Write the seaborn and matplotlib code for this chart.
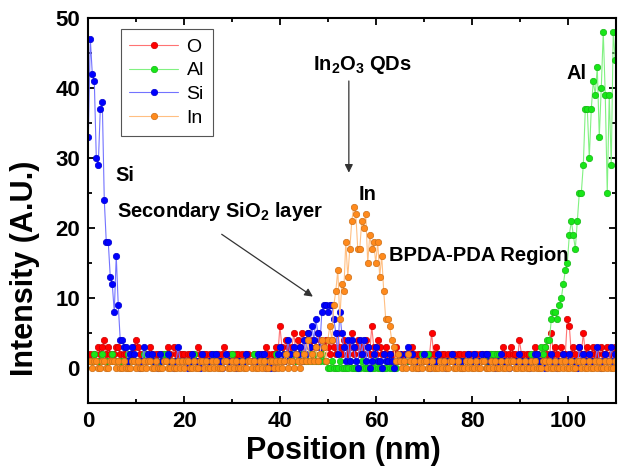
import numpy as np
import pandas as pd
import matplotlib
matplotlib.use("Agg")
import matplotlib.pyplot as plt
from matplotlib.ticker import MultipleLocator
from matplotlib.colors import to_rgb
import seaborn as sns

# sampling step of the line scan (nm)
STEP = 0.416

elements = ["O", "Al", "Si", "In"]
colors = {"O": "#ff0000", "Al": "#19e619", "Si": "#0000ff", "In": "#ff8a1c"}

# Intensity (A.U.) per point
o_vals = ([1, 2, 1, 2, 1, 3, 2, 3, 4, 2, 3, 2, 1, 2, 3, 3, 2, 1, 2, 2, 1, 2, 2, 3, 4, 3, 2, 1, 2, 2,
           1, 3, 2, 1, 2, 2, 1, 2, 2, 1, 3, 2, 1, 3, 2, 1, 2, 2]
          + [2, 1, 2, 2, 1, 2, 1, 3, 2, 1, 2, 2, 1, 2, 1, 1, 2, 2, 1, 2, 3, 1, 2, 1, 2, 1, 2, 2, 1, 2,
             1, 2, 2, 1, 1, 2, 1, 2, 2, 1, 2, 3, 2, 1, 2, 2, 3, 2]
          + [6, 3, 2, 4, 3, 2, 3, 5, 2, 4, 3, 5, 2, 4, 5, 3, 4, 2, 3, 5, 4, 2, 3, 4, 3, 2, 4, 3, 2, 5,
             3, 2, 4, 3, 2]
          + [3, 5, 2, 3, 4, 2, 3, 2, 4, 3, 2, 6, 3, 2, 4, 3, 2, 2, 3, 2, 1, 2, 2, 3, 2, 2, 1, 2, 2, 1,
             2, 3, 2, 1, 2]
          + [2, 1, 2, 2, 1, 2, 5, 2, 3, 2, 1, 2, 2, 1, 2, 1, 2, 2, 1, 2, 2, 1, 2, 1, 2, 2, 1, 2, 2, 1,
             2, 2, 1, 2, 1, 2, 2, 1, 2, 2, 1, 2, 3, 2, 1, 2, 3, 2, 2, 1, 4, 2, 2, 1, 2, 2, 1, 2, 3, 2,
             2, 1]
          + [2, 3, 2, 1, 5, 2, 3, 2, 1, 3, 2, 2, 7, 6, 2, 3, 2, 1, 3, 2, 5, 2, 3, 1, 2, 3, 2, 2, 1, 3,
             2, 2, 3, 1, 2, 2, 3])

al_vals = ([1, 1, 1, 2, 1, 1, 1, 2, 1, 1, 1, 1, 2, 1, 1, 1, 1, 1, 1, 1, 2, 1, 1, 1, 1, 1, 1, 1, 2, 1,
            1, 1, 1, 1, 1, 1, 1, 1, 2, 2, 1, 1, 1, 1, 1, 1, 1, 1]
           + [1, 1, 1, 1, 1, 2, 1, 1, 1, 1, 1, 1, 1, 1, 1, 2, 1, 1, 1, 1, 1, 1, 1, 1, 2, 1, 1, 1, 1, 1,
              1, 1, 1, 1, 1, 2, 1, 1, 1, 1, 1, 1, 1, 1, 1, 1, 2, 1]
           + [1, 1, 2, 1, 1, 1, 2, 1, 1, 1, 2, 2, 1, 1, 1, 2, 1, 2, 1, 1, 1, 2, 1, 1]
           + [0, 0, 1, 0, 0, 0, 1, 0, 0, 0, 0, 1, 0, 0, 0, 0, 0, 1, 0, 0, 0, 0, 0, 0, 1, 0, 0, 0, 0, 0,
              1, 0, 0, 0, 0]
           + [1, 1, 1, 1, 1, 1, 1, 1, 1, 1, 1, 1, 2, 2, 1, 2, 1, 1, 1, 1, 1, 1, 1, 1, 1, 1, 1, 1, 1, 1,
              1, 1, 1, 1, 1, 1, 1, 1, 1, 1, 1, 1, 1, 1, 1, 1, 1, 2, 2, 1, 2, 2, 1, 1, 1, 1, 1, 1, 1, 1,
              1, 1, 1, 1, 1, 1, 1, 2, 1]
           + [1, 2, 1, 3, 2, 3, 4, 4, 7, 8, 8, 7, 9, 10, 12, 14, 15, 19, 21, 19, 17, 21, 25, 25, 29,
              37, 37, 30, 37, 41, 39, 43, 33, 40, 48, 39, 25, 39, 29, 48, 44])

si_vals = ([33, 47, 42, 41, 30, 29, 37, 38, 24, 18, 18, 13, 12, 8, 16, 9, 4, 4]
           + [3, 3, 1, 2, 3, 2, 1, 1, 0, 1, 3, 1, 2, 1, 2, 1, 1, 0, 2, 1, 1, 1, 2, 1, 1, 0, 1, 3, 1, 1]
           + [1, 1, 0, 1, 2, 1, 1, 1, 0, 2, 1, 1, 1, 1, 2, 1, 2, 1, 1, 0, 1, 2, 1, 1, 1, 1, 0, 1, 1, 1,
              1, 2, 1, 1, 1, 1, 1, 2, 1, 2, 2, 0, 1, 0, 1, 0, 1, 2]
           + [3, 1, 2, 1, 4, 2, 1, 3, 2]
           + [2, 3, 1, 4, 2, 5, 3, 6, 4, 7, 5, 3, 8, 9, 9, 8, 9, 9, 7, 5, 2, 8, 5, 3, 1, 4]
           + [1, 4, 3, 1, 0, 4, 2, 4, 1, 3, 0, 1, 2, 3, 1, 1, 0, 2, 1, 1, 2, 1, 0, 1, 1, 2, 1, 1, 2, 3,
              1, 2, 1, 1, 0]
           + [1, 1, 2, 1, 1, 0, 1, 1, 1, 2, 1, 1, 1, 0, 1, 1, 2, 1, 1, 1, 1, 0, 1, 1, 2, 1, 1, 2, 1, 1,
              1, 2, 1, 2, 2, 1, 1, 1, 0, 1, 1, 2, 1, 1, 1, 0, 1, 1, 1, 1, 2, 1, 1, 1, 1, 0, 1, 1, 2, 2,
              1, 1]
           + [1, 0, 1, 1, 2, 1, 1, 0, 1, 1, 2, 1, 1, 2, 1, 1, 1, 0, 3, 1, 2, 1, 1, 2, 1, 1, 1, 3, 1, 0,
              1, 2, 1, 1, 3, 1, 2])

in_vals = ([1, 1, 0, 1, 1, 0, 0, 1, 1, 0, 0, 1, 1, 1, 0, 1, 0, 0, 1, 0, 0, 0, 1, 1, 0, 1, 0, 0, 1, 0,
            1, 1, 0, 0, 1, 0, 0, 0, 1, 1, 0, 0, 1, 0, 0, 1, 0, 1]
           + [0, 1, 1, 0, 0, 1, 0, 0, 1, 1, 0, 1, 0, 0, 1, 0, 1, 0, 0, 0, 1, 1, 0, 0, 1, 0, 1, 0, 0, 1,
              0, 0, 1, 1, 0, 1, 0, 0, 1, 0, 1, 0, 0, 1, 1, 0, 1, 0]
           + [1, 0, 1, 2, 0, 1, 1, 0, 2, 1, 0, 1, 2, 1]
           + [4, 1, 2, 1, 3, 1, 2, 4, 3, 1, 4, 6, 4, 9, 11, 14, 7, 12, 11, 18, 13, 17, 21, 23, 22, 17,
              17, 21, 20, 22, 15, 19, 17, 18, 15, 18, 13, 16, 11, 7, 7, 6, 4, 3, 1, 2]
           + [1, 0, 1, 0, 2, 1, 0, 1, 0, 0, 1, 0, 1, 1, 0, 0, 1, 0, 0, 0, 1, 0, 1, 0, 0, 1, 1, 0, 0, 1,
              0, 0, 0, 1, 0, 1, 0, 0, 1, 0, 0, 1, 1, 0, 0, 0, 1, 0, 1, 0, 0, 1, 0, 0, 1, 0, 1, 1, 0, 0,
              1, 0, 0, 1, 0, 0, 1, 0, 1, 0, 0, 0, 1, 1, 0, 1, 0, 0, 1, 0, 0, 1, 0, 1, 0, 0, 1, 0, 0, 1,
              1, 0, 1, 0, 0, 1, 0, 0, 1, 0, 1, 0, 0, 1, 0, 1, 0, 0, 1])

series = {"O": o_vals, "Al": al_vals, "Si": si_vals, "In": in_vals}

frames = []
for name in elements:
    vals = series[name]
    frames.append(pd.DataFrame({"Position": np.arange(len(vals)) * STEP,
                                "Intensity": vals,
                                "Element": name}))
df = pd.concat(frames, ignore_index=True)

sns.set_style("ticks")
plt.rcParams["font.family"] = ["Liberation Sans", "DejaVu Sans"]
plt.rcParams["mathtext.fontset"] = "custom"
plt.rcParams["mathtext.rm"] = "Liberation Sans"
plt.rcParams["mathtext.bf"] = "Liberation Sans:bold"
for key in ["text.color", "axes.labelcolor", "xtick.color", "ytick.color", "axes.edgecolor"]:
    plt.rcParams[key] = "black"

fig = plt.figure(figsize=(6.18, 4.73), dpi=100)
ax = fig.add_axes([0.1429, 0.148, 0.854, 0.814])

sns.lineplot(data=df, x="Position", y="Intensity", hue="Element", hue_order=elements,
             palette=colors, estimator=None, sort=False, marker="o", legend=False, ax=ax)


def tint(c, f=0.45):
    r, g, b = to_rgb(c)
    return (r + (1 - r) * f, g + (1 - g) * f, b + (1 - b) * f)


for line, name in zip(ax.lines, elements):
    c = colors[name]
    line.set_color(tint(c))
    line.set_linewidth(0.8)
    line.set_markersize(4.6)
    line.set_markerfacecolor(c)
    line.set_markeredgecolor(tuple(v * 0.8 for v in to_rgb(c)))
    line.set_markeredgewidth(0.5)

ax.set_xlim(0, 110)
ax.set_ylim(-5, 50)
ax.xaxis.set_major_locator(MultipleLocator(20))
ax.xaxis.set_minor_locator(MultipleLocator(10))
ax.yaxis.set_major_locator(MultipleLocator(10))
ax.yaxis.set_minor_locator(MultipleLocator(5))
ax.tick_params(which="both", direction="in", top=True, right=True, width=1.3)
ax.tick_params(which="major", length=5, labelsize=16, pad=6)
ax.tick_params(which="minor", length=3)
for lab in ax.get_xticklabels() + ax.get_yticklabels():
    lab.set_fontweight("bold")
for sp in ax.spines.values():
    sp.set_linewidth(1.5)

ax.set_xlabel("Position (nm)", fontsize=22, fontweight="bold")
ax.set_ylabel("Intensity (A.U.)", fontsize=22, fontweight="bold")
ax.xaxis.set_label_coords(0.483, -0.085)
ax.yaxis.set_label_coords(-0.092, 0.35)

leg = ax.legend(handles=ax.lines[:4], labels=elements, loc="upper left",
                bbox_to_anchor=(0.061, 0.971), borderaxespad=0, fontsize=14,
                handlelength=2.5, handletextpad=0.45, labelspacing=0.32,
                borderpad=0.45, fancybox=False, framealpha=1)
leg.get_frame().set_edgecolor("#555555")
leg.get_frame().set_linewidth(0.8)

bold = dict(fontsize=14.5, fontweight="bold")
ax.text(5.6, 27.5, "Si", ha="left", va="center", **bold)
ax.text(6.0, 22.3, r"Secondary SiO$_\mathbf{2}$ layer", ha="left", va="center", **bold)
ax.text(58.3, 24.8, "In", ha="center", va="center", **bold)
ax.text(101.7, 42.1, "Al", ha="center", va="center", **bold)
ax.text(62.6, 16.1, "BPDA-PDA Region", ha="left", va="center", **bold)
ax.text(57.2, 43.3, r"In$_\mathbf{2}$O$_\mathbf{3}$ QDs", ha="center", va="center", **bold)

arrow = dict(arrowstyle="-|>", color="#333333", lw=0.9, mutation_scale=12,
             shrinkA=0, shrinkB=0)
ax.annotate("", xy=(46.8, 10.2), xytext=(27.8, 19.1), arrowprops=arrow)
ax.annotate("", xy=(54.3, 27.9), xytext=(54.3, 41.0), arrowprops=arrow)

fig.savefig("out.png", dpi=100)
